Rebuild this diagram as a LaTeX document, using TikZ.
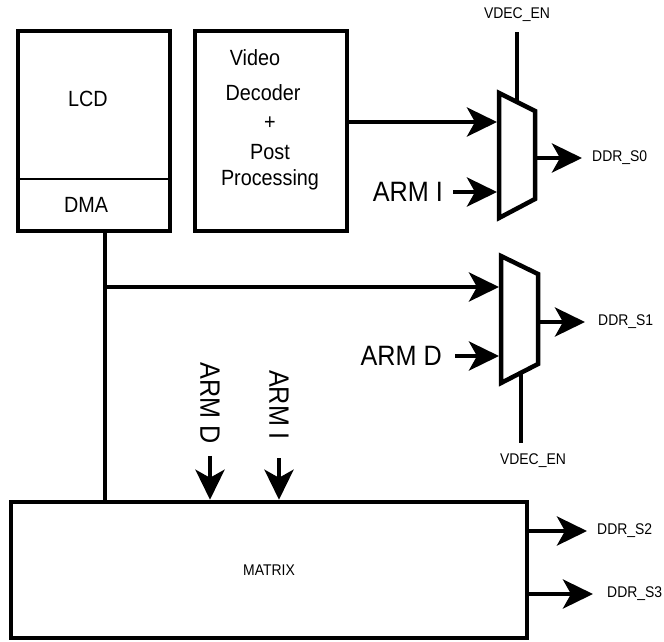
\documentclass[tikz,border=0pt]{standalone}
\usepackage{fontspec}
\setmainfont[FakeStretch=0.9]{Liberation Sans}
\usetikzlibrary{arrows.meta,positioning}
\begin{document}
\begin{tikzpicture}[
    x=1pt, y=-1pt,
    wire/.style={line width=4.5pt},
    bus/.style={wire, -{Stealth[length=30pt,width=29pt,inset=8pt]}},
    block/.style={draw, line width=4.5pt, minimum width=152pt, minimum height=200pt, inner sep=0pt},
    lbl/.style={inner sep=0pt, font=\fontsize{22}{26}\selectfont},
    big/.style={inner sep=0pt, font=\fontsize{28}{32}\selectfont},
    small/.style={inner sep=0pt, font=\fontsize{15.5}{18}\selectfont}
    ]
    \useasboundingbox (0,0) rectangle (664,641);
    \node[block] (lcd) at (94,131) {};
    \coordinate (split) at (0,179);
    \draw[line width=1.2pt] (lcd.west |- split) -- (lcd.east |- split);
    \node[lbl] (lcdtext) at (88,99) {LCD};
    \node[lbl] (dmatext) at (86,205) {DMA};
    \node[block] (vdec) at (271,131) {};
    \node[lbl] (vdtext1) at (255,58) {Video};
    \node[lbl] (vdtext2) at (263,93) {Decoder};
    \node[lbl] (vdtext3) at (270,123) {+};
    \node[lbl] (vdtext4) at (270,152) {Post};
    \node[lbl] (vdtext5) at (270,180) {Processing};
    \node[draw, line width=4.5pt, minimum width=516pt, minimum height=136pt, small] (mtx) at (269,570) {MATRIX};
    \coordinate (m1a) at (499,93);
    \coordinate (m1b) at (535,111);
    \coordinate (m1c) at (535,199);
    \coordinate (m1d) at (499,218);
    \draw[wire, line join=miter] (m1a) -- (m1b) -- (m1c) -- (m1d) -- cycle;
    \coordinate (m2a) at (501,256);
    \coordinate (m2b) at (538,274);
    \coordinate (m2c) at (538,364);
    \coordinate (m2d) at (501,383);
    \draw[wire, line join=miter] (m2a) -- (m2b) -- (m2c) -- (m2d) -- cycle;
    \coordinate (m1in1) at (497,122);
    \coordinate (m1in2) at (497,192);
    \coordinate (m2in1) at (499,287);
    \coordinate (m2in2) at (499,356);
    \coordinate (m1sel) at (517,102);
    \coordinate (m2sel) at (521,373);
    \node[small] (en1) at (517,15) {VDEC\_EN};
    \node[small] (en2) at (533,461) {VDEC\_EN};
    \draw[wire] (m1sel) -- ++(0,-70);
    \draw[wire] (m2sel) -- ++(0,70);
    \node[big, anchor=east] (armi1) at (443,192) {ARM I};
    \node[big, anchor=east] (armd1) at (442,356) {ARM D};
    \draw[bus] (vdec.east |- m1in1) -- (m1in1);
    \draw[bus] ([xshift=10pt]armi1.east) -- (m1in2);
    \draw[bus] ([xshift=13pt]armd1.east) -- (m2in2);
    \node[small, anchor=west] (s0) at (592,158) {DDR\_S0};
    \node[small, anchor=west] (s1) at (598,322) {DDR\_S1};
    \node[small, anchor=west] (s2) at (597,531) {DDR\_S2};
    \node[small, anchor=west] (s3) at (607,594) {DDR\_S3};
    \draw[bus] (m1c |- s0) -- ([xshift=-10pt]s0.west);
    \draw[bus] (m2c |- s1) -- ([xshift=-13pt]s1.west);
    \draw[bus] (mtx.east |- s2) -- ([xshift=-10pt]s2.west);
    \draw[bus] (mtx.east |- s3) -- ([xshift=-14pt]s3.west);
    \coordinate (tap) at (105,287);
    \draw[wire] (lcd.south -| tap) -- (mtx.north -| tap);
    \draw[bus] (tap) -- (m2in1);
    \node[big, rotate=-90] (armd2) at (210,403) {ARM D};
    \node[big, rotate=-90] (armi2) at (279,405) {ARM I};
    \draw[bus] ([yshift=-12pt]armd2.east) -- (armd2.east |- mtx.north);
    \draw[bus] ([yshift=-18pt]armi2.east) -- (armi2.east |- mtx.north);
\end{tikzpicture}
\end{document}
